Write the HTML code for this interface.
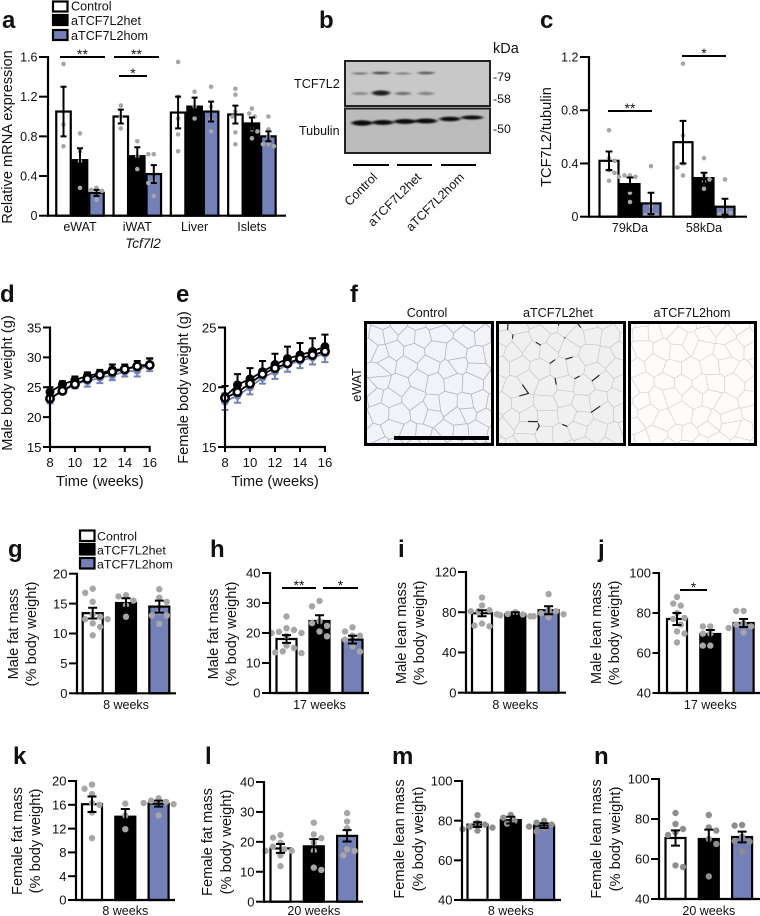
<!DOCTYPE html>
<html lang="en">
<head>
<meta charset="utf-8">
<title>TCF7L2 adipose knockout figure</title>
<style>
html,body{margin:0;padding:0;background:#fff;}
svg#fig{display:block;font-family:"Liberation Sans",Arial,sans-serif;fill:#111;filter:blur(0.35px);}
.pl{font-size:24px;font-weight:700;fill:#111;}
</style>
</head>
<body>
<svg id="fig" width="760" height="916" viewBox="0 0 760 916" xmlns="http://www.w3.org/2000/svg">
  <defs>
    <filter id="b1" x="-30%" y="-150%" width="160%" height="400%"><feGaussianBlur stdDeviation="1.6 0.9"/></filter>
    <filter id="b2" x="-30%" y="-30%" width="160%" height="160%"><feGaussianBlur stdDeviation="4"/></filter>
  </defs>
  <text class="pl" x="2" y="28">a</text>
  <text class="pl" x="319" y="28">b</text>
  <text class="pl" x="540" y="28">c</text>
  <text class="pl" x="0" y="302">d</text>
  <text class="pl" x="176" y="302">e</text>
  <text class="pl" x="350" y="302">f</text>
  <text class="pl" x="8" y="557">g</text>
  <text class="pl" x="210" y="557">h</text>
  <text class="pl" x="398" y="557">i</text>
  <text class="pl" x="598" y="557">j</text>
  <text class="pl" x="13" y="764">k</text>
  <text class="pl" x="205" y="764">l</text>
  <text class="pl" x="392" y="764">m</text>
  <text class="pl" x="594" y="764">n</text>

  <g font-size="12.6">
    <rect x="53" y="1.5" width="14.5" height="10" fill="#fff" stroke="#000" stroke-width="2.2"/>
    <text x="71" y="10.5">Control</text>
    <rect x="53" y="15" width="14.5" height="10" fill="#000" stroke="#000" stroke-width="2.2"/>
    <text x="71" y="25">aTCF7L2het</text>
    <rect x="53" y="30" width="14.5" height="10" fill="#7480b8" stroke="#000" stroke-width="2.2"/>
    <text x="71" y="40">aTCF7L2hom</text>
  </g>
  <g font-size="12.4">
    <rect x="80" y="530.5" width="14.5" height="10.5" fill="#fff" stroke="#000" stroke-width="2.2"/>
    <text x="97" y="540.5">Control</text>
    <rect x="80" y="544" width="14.5" height="10.5" fill="#000" stroke="#000" stroke-width="2.2"/>
    <text x="97" y="554.5">aTCF7L2het</text>
    <rect x="80" y="558" width="14.5" height="10.5" fill="#7480b8" stroke="#000" stroke-width="2.2"/>
    <text x="97" y="568.5">aTCF7L2hom</text>
  </g>

  <g>
    <text x="493" y="53" font-size="14.5">kDa</text>
    <rect x="345" y="61" width="145" height="45" fill="#c8c8c8" stroke="#222" stroke-width="2"/>
    <rect x="345" y="108.5" width="145" height="44.5" fill="#bbbbbb" stroke="#222" stroke-width="2"/>
    <g filter="url(#b1)" fill="#3a3a3a">
      <ellipse cx="360" cy="73.5" rx="8" ry="1.1" opacity=".6"/>
      <ellipse cx="381" cy="73" rx="9" ry="1.4" opacity=".85"/>
      <ellipse cx="403" cy="73.5" rx="8" ry="1.1" opacity=".5"/>
      <ellipse cx="426" cy="73" rx="8.5" ry="1.4" opacity=".75"/>
    </g>
    <g filter="url(#b1)" fill="#222">
      <ellipse cx="360" cy="93.5" rx="8" ry="1.4" opacity=".42"/>
      <ellipse cx="381" cy="93" rx="9" ry="2.6" opacity="1"/>
      <ellipse cx="403" cy="93.5" rx="8" ry="1.6" opacity=".52"/>
      <ellipse cx="426" cy="93.5" rx="8" ry="1.6" opacity=".42"/>
    </g>
    <g filter="url(#b1)" fill="#0c0c0c">
      <ellipse cx="362" cy="123" rx="10.5" ry="2.7"/>
      <ellipse cx="383" cy="122.5" rx="10.5" ry="2.5"/>
      <ellipse cx="405" cy="121.5" rx="11" ry="2.5"/>
      <ellipse cx="426" cy="121" rx="11" ry="2.5"/>
      <ellipse cx="450" cy="119" rx="10.5" ry="2.3"/>
      <ellipse cx="472" cy="117.5" rx="11" ry="2"/>
    </g>
    <text x="493" y="81" font-size="12.4">-79</text>
    <text x="493" y="103" font-size="12.4">-58</text>
    <text x="493" y="133" font-size="12.4">-50</text>
    <text x="294" y="88" font-size="12.7">TCF7L2</text>
    <text x="299" y="135" font-size="12.5">Tubulin</text>
    <line x1="353" x2="389" y1="165" y2="165" stroke="#000" stroke-width="2"/>
    <line x1="397" x2="432" y1="165" y2="165" stroke="#000" stroke-width="2"/>
    <line x1="441" x2="476" y1="165" y2="165" stroke="#000" stroke-width="2"/>
    <text font-size="12.5" text-anchor="end" transform="translate(378,178) rotate(-45)">Control</text>
    <text font-size="12.5" text-anchor="end" transform="translate(422,178) rotate(-45)">aTCF7L2het</text>
    <text font-size="12.5" text-anchor="end" transform="translate(465,178) rotate(-45)">aTCF7L2hom</text>
  </g>

  <g id="micro">
    <text x="427" y="317" font-size="12.6" text-anchor="middle">Control</text>
    <text x="558" y="317" font-size="12.6" text-anchor="middle">aTCF7L2het</text>
    <text x="692" y="317" font-size="12.6" text-anchor="middle">aTCF7L2hom</text>
    <text font-size="12.6" text-anchor="middle" transform="translate(361,385) rotate(-90)">eWAT</text>
  </g>
  <g id="charts"></g>
  <text x="143" y="248" font-size="13.5" font-style="italic" text-anchor="middle">Tcf7l2</text>
</svg>
<script>
/* ---------- shared ---------- */
const groupNames = ['control', 'het', 'hom'];
const groupFills = ['#fff', '#000', '#7480b8'];

/* ---------- panel a ---------- */
const aCategories = ['eWAT', 'iWAT', 'Liver', 'Islets'];
const aYTicks = [0, 0.4, 0.8, 1.2, 1.6];
const aYTickLabels = ['0', '0.4', '0.8', '1.2', '1.6'];
const aMeans = [[1.05, 0.56, 0.23], [1.0, 0.6, 0.42], [1.04, 1.1, 1.05], [1.02, 0.93, 0.8]];
const aSems = [[0.25, 0.12, 0.03], [0.07, 0.09, 0.09], [0.16, 0.09, 0.1], [0.09, 0.06, 0.05]];
const aPoints = [
  [[1.53, 0.92, 0.7], [0.83, 0.65, 0.55, 0.28], [0.28, 0.26, 0.25, 0.16]],
  [[1.11, 1.0, 0.88], [0.75, 0.6, 0.47], [0.62, 0.62, 0.35, 0.33, 0.2]],
  [[1.55, 1.2, 0.98, 0.82, 0.65], [1.25, 1.1, 0.98], [1.3, 1.1, 0.97, 0.85]],
  [[1.28, 1.22, 1.05, 1.0, 0.84, 0.72], [1.08, 1.03, 1.0, 0.87, 0.85, 0.78], [1.0, 0.87, 0.8, 0.72, 0.7, 0.72]]
];

/* ---------- panel c ---------- */
const cCategories = ['79kDa', '58kDa'];
const cYTicks = [0, 0.4, 0.8, 1.2];
const cYTickLabels = ['0', '0.4', '0.8', '1.2'];
const cMeans = [[0.42, 0.245, 0.1], [0.56, 0.29, 0.075]];
const cSems = [[0.07, 0.05, 0.08], [0.16, 0.04, 0.06]];
const cPoints = [
  [[0.65, 0.44, 0.42, 0.35, 0.33, 0.27], [0.31, 0.31, 0.3, 0.3, 0.18, 0.11], [0.38, 0.08, 0.03, 0.01, 0.01]],
  [[1.15, 0.61, 0.4, 0.37, 0.31], [0.44, 0.31, 0.28, 0.26, 0.21], [0.28, 0.05, 0.03, 0.02, 0.0]]
];

/* ---------- panels d, e ---------- */
const weeks = [8, 9, 10, 11, 12, 13, 14, 15, 16];
const weekTicks = [8, 10, 12, 14, 16];
const dYTicks = [15, 20, 25, 30, 35];
const dControl = [23.1, 24.4, 25.5, 26.4, 27.1, 27.6, 28, 28.5, 28.7];
const dHet = [24.2, 25.5, 26.2, 26.9, 27.3, 27.9, 28, 28.6, 28.8];
const dHetSem = [0.8, 0.5, 0.6, 0.6, 0.6, 0.9, 0.8, 0.8, 1.0];
const dHom = [23, 24.6, 25.6, 26, 26.6, 27, 27.6, 27.8, 28.8];
const dHomSem = [0.7, 0.7, 0.8, 0.9, 0.9, 0.8, 0.8, 1.0, 1.1];
const eYTicks = [15, 20, 25];
const eControl = [19.1, 19.6, 20.3, 21.1, 21.6, 22, 22.4, 22.7, 23];
const eHet = [19.2, 20.2, 20.7, 21.3, 21.9, 22.4, 22.7, 23, 23.4];
const eHetSem = [0.9, 0.9, 0.9, 0.9, 0.9, 1.0, 1.0, 1.1, 1.0];
const eHom = [18.8, 19.3, 20, 20.8, 21.3, 21.9, 22.2, 22.5, 22.8];
const eHomSem = [0.7, 0.6, 0.6, 0.5, 0.6, 0.6, 0.6, 0.6, 0.7];

/* ---------- panels g - n ---------- */
const gCategories = ['8 weeks'];
const gYTicks = [0, 5, 10, 15, 20];
const gMeans = [[13.4, 15.1, 14.5]];
const gSems = [[0.9, 0.8, 1.0]];
const gPoints = [[[17.5, 16.8, 15.3, 13.2, 12.8, 12.4, 12.4, 11.7, 11.1, 9.7], [16.4, 16.2, 15.5, 14.7, 12.8], [17.4, 16, 15.3, 13.6, 13, 13, 11.6]]];

const hCategories = ['17 weeks'];
const hYTicks = [0, 10, 20, 30, 40];
const hMeans = [[18, 24, 17.8]];
const hSems = [[1.3, 1.9, 1.3]];
const hPoints = [[[25.5, 21.6, 21, 20.4, 20, 20, 19, 15.8, 15, 13.9, 13.5, 13.3], [30.7, 28.9, 23.9, 23.3, 22.4, 20.5, 18.9], [21.9, 20.5, 19.1, 19.1, 17.8, 15.5, 13.8]]];

const iCategories = ['8 weeks'];
const iYTicks = [0, 40, 80, 120];
const iMeans = [[79, 78, 82]];
const iSems = [[3, 2, 4]];
const iPoints = [[[94.6, 86.7, 82, 81, 81, 78, 68.7, 66.7, 66], [80, 78.3, 77.7, 77, 76], [98, 82, 81, 79, 78, 76, 75]]];

const jCategories = ['17 weeks'];
const jYTicks = [40, 60, 80, 100];
const jMeans = [[77, 69.5, 75]];
const jSems = [[3, 2, 2]];
const jPoints = [[[88, 84.7, 83.7, 80, 77.5, 77, 74.2, 70.8, 69.7, 65.3], [73.3, 73.3, 69.7, 69.7, 63.7, 63.7], [81, 81, 74.7, 74.2, 73.3, 72.5, 70.3]]];

const kCategories = ['8 weeks'];
const kYTicks = [0, 4, 8, 12, 16, 20];
const kMeans = [[16.1, 14, 16.2]];
const kSems = [[1.3, 1.3, 0.5]];
const kPoints = [[[19.4, 18.7, 17.8, 16.3, 16, 14.7, 10.4], [16.2, 14.2, 11.9], [17.1, 16.7, 16.5, 16.3, 16.1, 14.2]]];

const lCategories = ['20 weeks'];
const lYTicks = [0, 10, 20, 30, 40];
const lMeans = [[17.8, 18.5, 22]];
const lSems = [[1.5, 2.4, 1.9]];
const lPoints = [[[22.3, 21.4, 19.7, 18.4, 17.5, 17, 17, 15.5, 11.9], [26.4, 22.5, 21.2, 19.7, 17, 11.4, 10.6], [29.6, 26.8, 24.5, 17.5, 17, 15.5]]];

const mCategories = ['8 weeks'];
const mYTicks = [40, 60, 80, 100];
const mMeans = [[78, 80.3, 77.5]];
const mSems = [[1.2, 1.7, 1.2]];
const mPoints = [[[82.8, 79, 78, 77, 76.5, 75.7, 75], [82.9, 81.5, 79.9, 78.5], [79.9, 79, 78, 77, 76, 74.5]]];

const nCategories = ['20 weeks'];
const nYTicks = [40, 60, 80, 100];
const nMeans = [[70.5, 70, 71]];
const nSems = [[3.8, 4.7, 2.7]];
const nPoints = [[[83, 77.5, 75, 73.3, 72, 56.8, 56], [82, 75.8, 74.2, 70, 67.5, 51.3], [77, 76.7, 71, 69, 68.7, 63.7]]];

/* ---------- helpers ---------- */
const NS = 'http://www.w3.org/2000/svg';
const chartsRoot = document.getElementById('charts');
function el(parent, tag, attrs, txt) {
  const e = document.createElementNS(NS, tag);
  for (const k in attrs) e.setAttribute(k, attrs[k]);
  if (txt !== undefined) e.textContent = txt;
  parent.appendChild(e);
  return e;
}
function scaleY(cfg, ticks) {
  const lo = ticks[0], hi = ticks[ticks.length - 1];
  return v => cfg.y0 + (v - lo) / (hi - lo) * (cfg.yTop - cfg.y0);
}
/* deterministic beeswarm: offsets each dot only as far as needed to avoid overlap */
function swarm(vals, y, gap) {
  const placed = [];
  return vals.map((v, idx) => {
    const py = y(v);
    const sign = idx % 2 ? -1 : 1;
    for (let step = 0; step < 12; step++) {
      const mag = Math.ceil(step / 2) * gap * 0.55;
      const off = (step % 2 ? sign : -sign) * mag;
      if (placed.every(p => Math.hypot(p[0] - off, p[1] - py) >= gap)) {
        placed.push([off, py]);
        return [off, py];
      }
    }
    placed.push([0, py]);
    return [0, py];
  });
}
function drawYAxis(g, cfg, ticks, labels, y) {
  const ax = el(g, 'line', {x1: cfg.axisX, x2: cfg.axisX, y1: cfg.yTop - 1, y2: cfg.y0 + 1, stroke: '#000', 'stroke-width': 2.2});
  
  
  ticks.forEach((t, i) => {
    const tk = el(g, 'line', {x1: cfg.axisX - cfg.tickLen, x2: cfg.axisX, y1: y(t), y2: y(t), stroke: '#000', 'stroke-width': 2});
    
    
    const lb = el(g, 'text', {x: cfg.axisX - cfg.tickLen - 1.5, y: y(t) + cfg.tickFont * 0.36, 'font-size': cfg.tickFont, 'text-anchor': 'end'}, labels ? labels[i] : String(t));
    
    
  });
}
function drawYTitle(g, lines, xs, cy) {
  lines.forEach((s, i) => {
    const t = el(g, 'text', {'font-size': 14.6, 'text-anchor': 'middle', transform: 'translate(' + xs[i] + ',' + cy + ') rotate(-90)'}, s);
    
    
  });
}
function drawBarPanel(cfg, cats, ticks, tickLabels, means, sems, points) {
  const g = el(chartsRoot, 'g', {});
  
  
  const y = scaleY(cfg, ticks);
  means.forEach((row, c) => {
    const base = cfg.firstX + c * cfg.groupStep;
    row.forEach((m, b) => {
      const cx = base + b * cfg.barStep;
      const r = el(g, 'rect', {x: cx - cfg.barW / 2, y: y(m), width: cfg.barW, height: cfg.y0 - y(m), fill: groupFills[b], stroke: '#000', 'stroke-width': cfg.barStroke});
      
      
      swarm(points[c][b], y, cfg.dotGap).forEach(p => {
        const d = el(g, 'circle', {cx: cx + p[0], cy: p[1], r: cfg.dotR, fill: cfg.dotFill});
        
        
      });
      const top = y(m + sems[c][b]), bot = y(m - sems[c][b]);
      const eb = el(g, 'path', {d: 'M' + (cx - cfg.cap) + ' ' + top + 'H' + (cx + cfg.cap) + 'M' + cx + ' ' + top + 'V' + bot + 'M' + (cx - cfg.cap) + ' ' + bot + 'H' + (cx + cfg.cap), stroke: '#000', 'stroke-width': cfg.errW, fill: 'none'});
      
      
    });
    const lbl = el(g, 'text', {x: base + cfg.barStep + (cfg.labelDx || 0), y: cfg.labelY, 'font-size': 12.5, 'text-anchor': 'middle'}, cats[c]);
    
    
  });
  const xa = el(g, 'line', {x1: cfg.axisX - 1, x2: cfg.xEnd, y1: cfg.y0, y2: cfg.y0, stroke: '#000', 'stroke-width': 2.2});
  
  
  drawYAxis(g, cfg, ticks, tickLabels, y);
  drawYTitle(g, cfg.title, cfg.titleX, cfg.titleY);
  (cfg.sig || []).forEach(s => {
    const sl = el(g, 'line', {x1: s[0], x2: s[1], y1: s[2], y2: s[2], stroke: '#000', 'stroke-width': 2});
    
    
    const st = el(g, 'text', {x: (s[0] + s[1]) / 2, y: s[2] + 2, 'font-size': 14, 'text-anchor': 'middle'}, s[3]);
    
    
  });
}
function drawLinePanel(cfg, ticks, series) {
  const g = el(chartsRoot, 'g', {});
  
  
  const y = scaleY(cfg, ticks);
  const x = w => cfg.axisX + (w - weeks[0]) / (weeks[weeks.length - 1] - weeks[0]) * (cfg.xEnd - cfg.axisX);
  series.forEach(s => {
    if (s.sem) {
      s.vals.forEach((v, i) => {
        const up = y(v + s.sem[i]), dn = y(v - s.sem[i]), px = x(weeks[i]);
        const d = (s.dirs.includes('up') ? 'M' + (px - 3.5) + ' ' + up + 'H' + (px + 3.5) + 'M' + px + ' ' + up + 'V' + y(v) : '') +
                  (s.dirs.includes('down') ? 'M' + (px - 3.5) + ' ' + dn + 'H' + (px + 3.5) + 'M' + px + ' ' + dn + 'V' + y(v) : '');
        const e = el(g, 'path', {d: d, stroke: s.err, 'stroke-width': 2, fill: 'none'});
        
        
      });
    }
    const ln = el(g, 'polyline', {points: s.vals.map((v, i) => x(weeks[i]) + ',' + y(v)).join(' '), fill: 'none', stroke: s.line, 'stroke-width': 1.8});
    
    
    s.vals.forEach((v, i) => {
      const c = el(g, 'circle', {cx: x(weeks[i]), cy: y(v), r: s.r, fill: s.fill, stroke: s.stroke, 'stroke-width': s.sw});
      
      
    });
  });
  const xa = el(g, 'line', {x1: cfg.axisX - 1, x2: cfg.xEnd + 1, y1: cfg.y0, y2: cfg.y0, stroke: '#000', 'stroke-width': 2.2});
  
  
  weekTicks.forEach(w => {
    const t = el(g, 'line', {x1: x(w), x2: x(w), y1: cfg.y0, y2: cfg.y0 + 5, stroke: '#000', 'stroke-width': 2});
    
    
    const l = el(g, 'text', {x: x(w), y: cfg.y0 + 20, 'font-size': cfg.tickFont, 'text-anchor': 'middle'}, String(w));
    
    
  });
  const xt = el(g, 'text', {x: (cfg.axisX + cfg.xEnd) / 2, y: cfg.y0 + 39, 'font-size': 14.7, 'text-anchor': 'middle'}, 'Time (weeks)');
  
  
  drawYAxis(g, cfg, ticks, null, y);
  drawYTitle(g, cfg.title, cfg.titleX, cfg.titleY);
}

/* ---------- draw charts ---------- */
const bottomStyle = {barW: 20, barStroke: 2.2, barStep: 33.3, groupStep: 0, dotR: 3.2, dotGap: 6.8, cap: 4.5, errW: 2, labelY: 709, tickFont: 13, tickLen: 8, dotFill: '#a6a6a6'};

drawBarPanel({id: 'a', axisX: 48, y0: 215.7, yTop: 57, xEnd: 286, firstX: 63.5, groupStep: 57.3, barStep: 16.5, barW: 14.5, barStroke: 2.2, dotR: 2.3, dotGap: 5, dotFill: '#a6a6a6', cap: 3, errW: 2, labelY: 231, labelDx: 0, tickFont: 12.5, tickLen: 9,
  title: ['Relative mRNA expression'], titleX: [12], titleY: 137,
  sig: [[60, 105, 57, '**'], [114, 159, 57, '**'], [119, 147, 76, '*']]},
  aCategories, aYTicks, aYTickLabels, aMeans, aSems, aPoints);

drawBarPanel({id: 'c', axisX: 589, y0: 216.7, yTop: 57, xEnd: 747, firstX: 609, groupStep: 74, barStep: 21, barW: 19, barStroke: 2.2, dotR: 2.3, dotGap: 5, dotFill: '#a6a6a6', cap: 3.4, errW: 2, labelY: 232, tickFont: 12.5, tickLen: 9,
  title: ['TCF7L2/tubulin'], titleX: [551], titleY: 137,
  sig: [[608, 652, 111, '**'], [682, 726, 56, '*']]},
  cCategories, cYTicks, cYTickLabels, cMeans, cSems, cPoints);

drawLinePanel({id: 'd', axisX: 50, xEnd: 149.7, y0: 447, yTop: 327.5, tickFont: 13.2, tickLen: 7, title: ['Male body weight (g)'], titleX: [12], titleY: 383},
  dYTicks, [
    {name: 'hom', vals: dHom, sem: dHomSem, dirs: ['up', 'down'], err: '#7480b8', line: '#7480b8', r: 3.5, fill: '#7480b8', stroke: '#7480b8', sw: 1},
    {name: 'het', vals: dHet, sem: dHetSem, dirs: ['up'], err: '#000', line: '#000', r: 4, fill: '#000', stroke: '#000', sw: 1},
    {name: 'control', vals: dControl, line: '#000', r: 3.7, fill: '#fff', stroke: '#000', sw: 2.6}
  ]);
drawLinePanel({id: 'e', axisX: 225, xEnd: 325, y0: 447, yTop: 327.5, tickFont: 13.2, tickLen: 7, title: ['Female body weight (g)'], titleX: [188], titleY: 387.5},
  eYTicks, [
    {name: 'hom', vals: eHom, sem: eHomSem, dirs: ['up', 'down'], err: '#7480b8', line: '#7480b8', r: 3.5, fill: '#7480b8', stroke: '#7480b8', sw: 1},
    {name: 'het', vals: eHet, sem: eHetSem, dirs: ['up'], err: '#000', line: '#000', r: 4, fill: '#000', stroke: '#000', sw: 1},
    {name: 'control', vals: eControl, line: '#000', r: 3.7, fill: '#fff', stroke: '#000', sw: 2.6}
  ]);

drawBarPanel(Object.assign({}, bottomStyle, {id: 'g', axisX: 77, y0: 693.3, yTop: 573.7, xEnd: 176, firstX: 92.7, title: ['Male fat mass', '(% body weight)'], titleX: [18, 36], titleY: 634}), gCategories, gYTicks, null, gMeans, gSems, gPoints);
drawBarPanel(Object.assign({}, bottomStyle, {id: 'h', axisX: 270, y0: 693, yTop: 573, xEnd: 369, firstX: 286.5, barStep: 33, title: ['Male fat mass', '(% body weight)'], titleX: [218, 236], titleY: 634, sig: [[282, 316, 588, '**'], [323, 358, 588, '*']]}), hCategories, hYTicks, null, hMeans, hSems, hPoints);
drawBarPanel(Object.assign({}, bottomStyle, {id: 'i', axisX: 466, y0: 692.7, yTop: 572, xEnd: 566, firstX: 482, title: ['Male lean mass', '(% body weight)'], titleX: [406, 424], titleY: 633}), iCategories, iYTicks, null, iMeans, iSems, iPoints);
drawBarPanel(Object.assign({}, bottomStyle, {id: 'j', axisX: 659, y0: 693, yTop: 573, xEnd: 760, firstX: 677, title: ['Male lean mass', '(% body weight)'], titleX: [601, 619], titleY: 633, tickLen: 6.5, sig: [[680, 707, 590, '*']]}), jCategories, jYTicks, null, jMeans, jSems, jPoints);
drawBarPanel(Object.assign({}, bottomStyle, {id: 'k', axisX: 76, y0: 900, yTop: 781, xEnd: 175, firstX: 92, labelY: 915, title: ['Female fat mass', '(% body weight)'], titleX: [22, 40], titleY: 841}), kCategories, kYTicks, null, kMeans, kSems, kPoints);
drawBarPanel(Object.assign({}, bottomStyle, {id: 'l', axisX: 264, y0: 901.7, yTop: 782, xEnd: 363, firstX: 280.5, labelY: 915, title: ['Female fat mass', '(% body weight)'], titleX: [212, 231], titleY: 842}), lCategories, lYTicks, null, lMeans, lSems, lPoints);
drawBarPanel(Object.assign({}, bottomStyle, {id: 'm', axisX: 462, y0: 900, yTop: 781, xEnd: 561, firstX: 477.5, labelY: 915, dotFill: '#8e8e8e', title: ['Female lean mass', '(% body weight)'], titleX: [404, 423], titleY: 839}), mCategories, mYTicks, null, mMeans, mSems, mPoints);
drawBarPanel(Object.assign({}, bottomStyle, {id: 'n', axisX: 659, y0: 899, yTop: 779, xEnd: 760, firstX: 675.5, labelY: 915, dotFill: '#8e8e8e', title: ['Female lean mass', '(% body weight)'], titleX: [601, 620], titleY: 839}), nCategories, nYTicks, null, nMeans, nSems, nPoints);

/* ---------- histology texture (decorative adipocyte Voronoi mesh, not data) ---------- */
const microRoot = document.getElementById('micro');
function hash(n) { const s = Math.sin(n * 127.1 + 311.7) * 43758.5453; return s - Math.floor(s); }
function clipHalf(poly, ax, ay, bx, by) {
  /* keep the side of the bisector of A-B that contains A */
  const mx = (ax + bx) / 2, my = (ay + by) / 2, nx = bx - ax, ny = by - ay;
  const side = p => (p[0] - mx) * nx + (p[1] - my) * ny;
  const out = [];
  poly.forEach((p, i) => {
    const q = poly[(i + 1) % poly.length], sp = side(p), sq = side(q);
    if (sp <= 0) out.push(p);
    if ((sp < 0 && sq > 0) || (sp > 0 && sq < 0)) {
      const t = sp / (sp - sq);
      out.push([p[0] + (q[0] - p[0]) * t, p[1] + (q[1] - p[1]) * t]);
    }
  });
  return out;
}
function drawMicro(name, x, y, w, h, bg, wall, wallW, seed, dark) {
  const box = el(microRoot, 'svg', {x: x, y: y, width: w, height: h, viewBox: '0 0 ' + w + ' ' + h});
  
  
  el(box, 'rect', {x: 0, y: 0, width: w, height: h, fill: bg});
  const sp = 18, sites = [];
  for (let j = -1; j * sp * 0.88 < h + sp; j++) {
    for (let i = -1; i * sp < w + sp; i++) {
      const n = seed + (i + 2) * 31 + (j + 2) * 173;
      sites.push([(i + (j % 2 ? 0.5 : 0)) * sp + (hash(n) - 0.5) * sp * 0.7, j * sp * 0.88 + (hash(n + 5) - 0.5) * sp * 0.7]);
    }
  }
  let d = '', dk = '';
  sites.forEach((s, idx) => {
    let poly = [[s[0] - 40, s[1] - 40], [s[0] + 40, s[1] - 40], [s[0] + 40, s[1] + 40], [s[0] - 40, s[1] + 40]];
    sites.forEach((t, k) => {
      if (k !== idx && Math.hypot(s[0] - t[0], s[1] - t[1]) < sp * 3) poly = clipHalf(poly, s[0], s[1], t[0], t[1]);
    });
    if (poly.length < 3) return;
    d += 'M' + poly.map(p => p[0].toFixed(1) + ' ' + p[1].toFixed(1)).join('L') + 'Z';
    if (dark && hash(seed + idx * 7) > 0.62) {
      const e = Math.floor(hash(idx * 3 + 1) * poly.length);
      const a = poly[e], b = poly[(e + 1) % poly.length];
      dk += 'M' + a[0].toFixed(1) + ' ' + a[1].toFixed(1) + 'L' + ((a[0] + b[0]) / 2).toFixed(1) + ' ' + ((a[1] + b[1]) / 2).toFixed(1);
    }
  });
  const mesh = el(box, 'path', {d: d, fill: 'none', stroke: wall, 'stroke-width': wallW, 'stroke-linejoin': 'round'});
  
  
  if (dk) {
    const dp = el(box, 'path', {d: dk, fill: 'none', stroke: '#2a2a2a', 'stroke-width': 1.2, 'stroke-linecap': 'round'});
    
    
  }
  const fr = el(microRoot, 'rect', {x: x + 1.5, y: y + 1.5, width: w - 3, height: h - 3, fill: 'none', stroke: '#000', 'stroke-width': 3});
  
  
}
drawMicro('control', 364, 321, 130, 125, '#f1f3f9', '#b0b3bc', 0.8, 11, false);
drawMicro('het', 496, 321, 130, 125, '#f0f0f0', '#c6c6c6', 0.7, 47, true);
drawMicro('hom', 628, 321, 129, 125, '#fdfcfb', '#d3d0ce', 0.7, 83, false);
const scaleBar = el(microRoot, 'rect', {x: 394, y: 436, width: 95, height: 4, fill: '#000'});


</script>
</body>
</html>
